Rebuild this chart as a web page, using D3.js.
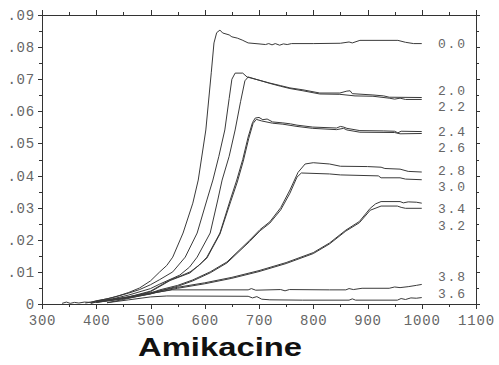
<!DOCTYPE html>
<html>
<head>
<meta charset="utf-8">
<script src="https://cdn.jsdelivr.net/npm/d3@7"></script>
<style>
  body { margin: 0; background: #fff; }
  svg { display: block; }
</style>
</head>
<body>
<div id="chart"></div>
<script>
// axes
const xTicks = [300, 400, 500, 600, 700, 800, 900, 1000, 1100];
const xMinor = [350, 450, 550, 650, 750, 850, 950, 1050];
const yTicks = [0, 0.01, 0.02, 0.03, 0.04, 0.05, 0.06, 0.07, 0.08, 0.09];
const yTickLabels = ['0', '.01', '.02', '.03', '.04', '.05', '.06', '.07', '.08', '.09'];
const yMinor = [0.005, 0.015, 0.025, 0.035, 0.045, 0.055, 0.065, 0.075, 0.085];

// curve names and where their labels sit (in y units)
const seriesNames = ['0.0', '2.0', '2.2', '2.4', '2.6', '2.8', '3.0', '3.4', '3.2', '3.8', '3.6'];
const labelAt = [0.0810, 0.0666, 0.0614, 0.0538, 0.0489, 0.0416, 0.0366, 0.0298, 0.0246, 0.0085, 0.0033];

// curves [x, y]
const s00 = [[337,0.0002],[345,0.0006],[352,0.0002],[360,0.0005],[368,0.0003],[378,0.0006],[390,0.0005],[400,0.001],[420,0.0016],[440,0.0025],[460,0.0036],[480,0.005],[500,0.0072],[517,0.0100],[530,0.0120],[541,0.0146],[560,0.0221],[578,0.0314],[588,0.0386],[602,0.0542],[612,0.0720],[617,0.0813],[622,0.0845],[628,0.0853],[633,0.0844],[645,0.0838],[650,0.0832],[660,0.0828],[669,0.0822],[680,0.0813],[700,0.0810],[712,0.0808],[718,0.0811],[724,0.0807],[730,0.0811],[738,0.0806],[745,0.0810],[752,0.0808],[760,0.0811],[800,0.0811],[850,0.0812],[866,0.0816],[872,0.0813],[886,0.0821],[956,0.0821],[970,0.0815],[985,0.0811],[1000,0.0811]];
const s20 = [[380,0.0003],[400,0.0009],[430,0.002],[460,0.0034],[480,0.0045],[500,0.006],[517,0.0076],[541,0.0100],[564,0.0146],[586,0.0221],[604,0.0324],[615,0.0386],[626,0.046],[637,0.0542],[645,0.0640],[650,0.0700],[656,0.0719],[670,0.0719],[678,0.0707],[700,0.0697],[720,0.0688],[740,0.0680],[757,0.0673],[781,0.0667],[812,0.0657],[849,0.0657],[862,0.0663],[868,0.0664],[872,0.0655],[910,0.0651],[930,0.0648],[940,0.0644],[1000,0.0643]];
const s22 = [[390,0.0003],[400,0.0007],[430,0.0016],[460,0.0028],[500,0.0048],[517,0.0062],[554,0.0090],[572,0.0115],[586,0.0146],[610,0.0221],[624,0.0324],[632,0.0386],[645,0.0460],[656,0.0542],[666,0.0630],[674,0.0695],[680,0.0707],[700,0.0697],[720,0.0687],[740,0.0678],[757,0.0671],[781,0.0664],[812,0.0654],[849,0.0653],[877,0.0648],[910,0.0647],[940,0.0641],[950,0.0638],[960,0.0641],[970,0.0637],[1000,0.0637]];
const s24 = [[390,0.0002],[400,0.0006],[430,0.0013],[460,0.0022],[500,0.0040],[536,0.0075],[555,0.0087],[573,0.0100],[590,0.0121],[604,0.0146],[628,0.0221],[647,0.0324],[659,0.0386],[670,0.0450],[680,0.0520],[688,0.0565],[693,0.0579],[700,0.0581],[707,0.0574],[715,0.0576],[725,0.0567],[744,0.0564],[758,0.0561],[770,0.0557],[799,0.0551],[843,0.0548],[850,0.0553],[856,0.0551],[862,0.0547],[886,0.0540],[930,0.0539],[950,0.0538],[956,0.0533],[962,0.0538],[1000,0.0537]];
const s26 = [[400,0.0005],[430,0.0012],[460,0.0021],[500,0.0038],[536,0.0073],[573,0.0097],[604,0.0143],[628,0.0218],[648,0.0320],[660,0.0380],[671,0.0445],[681,0.0515],[689,0.0562],[695,0.0575],[705,0.0570],[725,0.0563],[744,0.0560],[770,0.0553],[799,0.0547],[843,0.0543],[856,0.0547],[862,0.0542],[886,0.0535],[950,0.0534],[960,0.0530],[1000,0.0531]];
const s28 = [[400,0.0006],[450,0.0018],[500,0.0034],[517,0.0044],[550,0.0058],[578,0.0075],[610,0.0100],[641,0.0131],[683,0.0199],[702,0.0232],[720,0.0256],[740,0.0300],[757,0.0355],[772,0.0410],[785,0.0436],[800,0.0440],[830,0.0436],[850,0.0429],[900,0.0428],[925,0.0426],[932,0.0422],[960,0.0420],[975,0.0413],[1000,0.0411]];
const s30 = [[400,0.0005],[450,0.0016],[500,0.0031],[517,0.0041],[550,0.0055],[578,0.0072],[610,0.0097],[641,0.0128],[683,0.0195],[702,0.0228],[720,0.0252],[740,0.0293],[757,0.0345],[770,0.0395],[778,0.0408],[830,0.0405],[850,0.0402],[920,0.0399],[925,0.0393],[960,0.0393],[970,0.0389],[1000,0.0387]];
const s34 = [[400,0.0009],[450,0.002],[500,0.0035],[550,0.0052],[600,0.0066],[650,0.0083],[700,0.0104],[750,0.0129],[800,0.0160],[830,0.0190],[860,0.0230],[885,0.0257],[905,0.0298],[915,0.0312],[925,0.0319],[960,0.0319],[966,0.0315],[975,0.0318],[990,0.0317],[1000,0.0314]];
const s32 = [[400,0.0008],[450,0.0018],[500,0.0032],[550,0.0049],[600,0.0063],[650,0.0080],[700,0.0101],[750,0.0126],[800,0.0157],[830,0.0187],[860,0.0227],[885,0.0253],[905,0.0292],[925,0.0305],[955,0.0305],[962,0.0301],[970,0.0298],[1000,0.0298]];
const s38 = [[420,0.0004],[450,0.0014],[480,0.0025],[510,0.0036],[540,0.0044],[680,0.0044],[686,0.0048],[694,0.0043],[740,0.0045],[748,0.0041],[756,0.0045],[830,0.0044],[860,0.0044],[866,0.0048],[874,0.0045],[890,0.0049],[940,0.0049],[950,0.0053],[960,0.0051],[975,0.0054],[990,0.0058],[1000,0.0061]];
const s36 = [[420,0.0004],[460,0.0013],[500,0.0022],[530,0.0025],[680,0.0024],[688,0.0019],[696,0.0023],[705,0.0015],[720,0.0013],[780,0.0012],[866,0.0012],[872,0.0016],[878,0.0012],[955,0.0012],[962,0.0017],[970,0.0014],[980,0.0019],[990,0.0018],[1000,0.002]];

const curves = [s00, s20, s22, s24, s26, s28, s30, s34, s32, s38, s36];

const W = 499, H = 365;
const mLeft = 42, mRight = 476, mTop = 15, mBottom = 304;

let svg = d3.select('#chart').append('svg')
    .attr('width', W)
    .attr('height', H);

let x = d3.scaleLinear().domain([300, 1100]).range([mLeft, mRight]);
let y = d3.scaleLinear().domain([0, 0.09]).range([mBottom, mTop]);

const axisColor = '#333';
const labelFont = '"Liberation Mono", "Courier New", monospace';
const labelColor = '#666';

// 画轴（四边都有刻度，刻度朝外）
function drawAxis(axis, transform, cls) {
    let g = svg.append('g').attr('class', cls).attr('transform', transform).call(axis);
    g.select('.domain').remove();
    g.selectAll('line').attr('stroke', axisColor).attr('shape-rendering', 'crispEdges');
    g.selectAll('text')
        .attr('font-family', labelFont)
        .attr('font-size', 14)
        .attr('letter-spacing', 0.8)
        .attr('fill', labelColor);
    return g;
}

// bottom
drawAxis(d3.axisBottom(x).tickValues(xTicks).tickSize(5).tickPadding(6).tickFormat(d3.format('d')),
    'translate(0,' + mBottom + ')', 'xb');
drawAxis(d3.axisBottom(x).tickValues(xMinor).tickSize(3).tickFormat(''),
    'translate(0,' + mBottom + ')', 'xbm');
// top
drawAxis(d3.axisTop(x).tickValues(xTicks).tickSize(5).tickFormat(''), 'translate(0,' + mTop + ')', 'xt');
drawAxis(d3.axisTop(x).tickValues(xMinor).tickSize(3).tickFormat(''), 'translate(0,' + mTop + ')', 'xtm');
// left
drawAxis(d3.axisLeft(y).tickValues(yTicks).tickSize(4).tickPadding(3)
        .tickFormat((d, i) => yTickLabels[i]),
    'translate(' + mLeft + ',0)', 'yl');
drawAxis(d3.axisLeft(y).tickValues(yMinor).tickSize(3).tickFormat(''), 'translate(' + mLeft + ',0)', 'ylm');
// right
drawAxis(d3.axisRight(y).tickValues(yTicks).tickSize(4).tickFormat(''), 'translate(' + mRight + ',0)', 'yr');
drawAxis(d3.axisRight(y).tickValues(yMinor).tickSize(3).tickFormat(''), 'translate(' + mRight + ',0)', 'yrm');

// frame
svg.append('rect')
    .attr('x', mLeft + 0.5).attr('y', mTop + 0.5)
    .attr('width', mRight - mLeft).attr('height', mBottom - mTop)
    .attr('fill', 'none')
    .attr('stroke', axisColor)
    .attr('stroke-width', 1);

// curves
let line = d3.line()
    .x(d => x(d[0]))
    .y(d => y(d[1]));

svg.append('g').selectAll('path')
    .data(curves)
    .enter()
    .append('path')
    .attr('d', line)
    .attr('fill', 'none')
    .attr('stroke', '#3a3a3a')
    .attr('stroke-width', 1);

// curve labels on the right
svg.append('g').selectAll('text')
    .data(seriesNames)
    .enter()
    .append('text')
    .attr('x', 438)
    .attr('y', (d, i) => y(labelAt[i]))
    .attr('dy', '0.35em')
    .attr('font-family', labelFont)
    .attr('font-size', 13)
    .attr('letter-spacing', 1.8)
    .attr('fill', labelColor)
    .text(d => d);

// title
svg.append('text')
    .attr('x', 220)
    .attr('y', 356)
    .attr('text-anchor', 'middle')
    .attr('font-family', '"Liberation Sans", Arial, sans-serif')
    .attr('font-weight', 'bold')
    .attr('font-size', 25)
    .attr('textLength', 164)
    .attr('lengthAdjust', 'spacingAndGlyphs')
    .attr('fill', '#111')
    .text('Amikacine');
</script>
</body>
</html>
